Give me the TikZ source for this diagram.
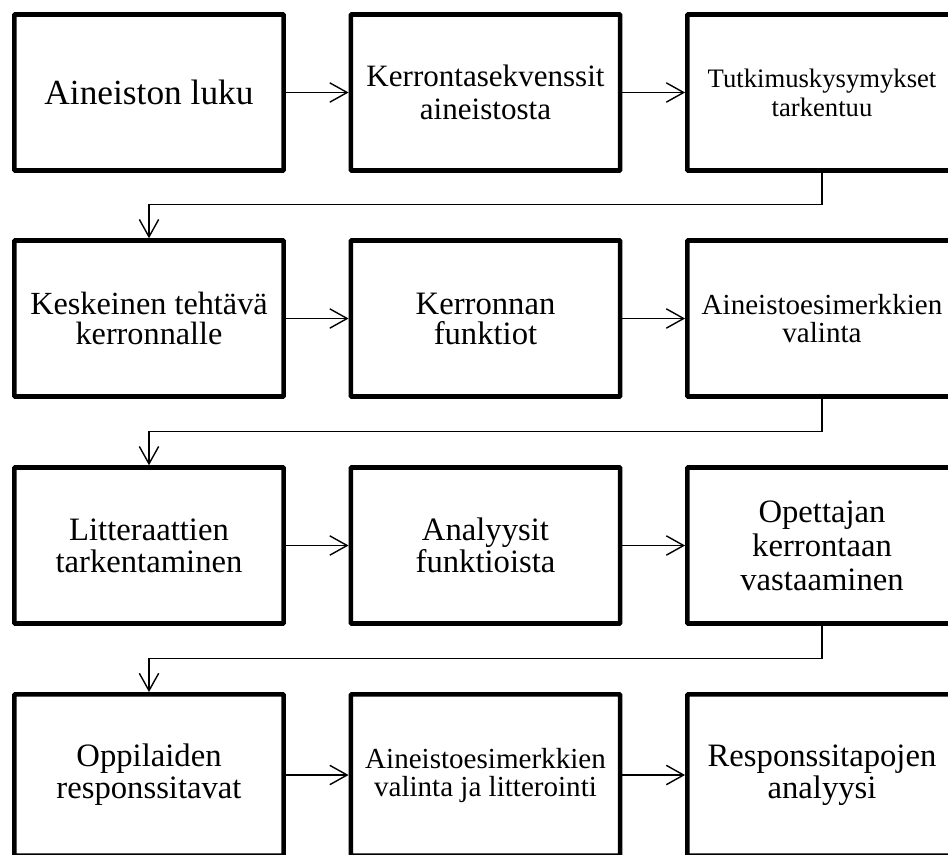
\documentclass[tikz,border=0pt]{standalone}
\usepackage{fontspec}
\setmainfont{Liberation Serif}
\usetikzlibrary{arrows.meta}

\tikzset{
  stage/.style={draw, line width=3.4pt, rounded corners=0.6pt, minimum width=202pt,
    minimum height=117pt, align=center, inner sep=2pt, font=\fontsize{24.5}{24}\selectfont},
  lastrow/.style={stage, minimum height=121pt},
  flow/.style={line width=1.05pt, -{Straight Barb[length=13pt,width=14.5pt]}}
}

\begin{document}
\begin{tikzpicture}[x=0.75pt,y=-0.75pt]
\useasboundingbox (0,0) rectangle (948,854);
% row 1
\node[stage,font=\fontsize{26.5}{28}\selectfont] (luku) at (149,92.5) {Aineiston luku};
\node[stage,font=\fontsize{23.3}{24.75}\selectfont] (sekv) at (485.5,92.5) {Kerrontasekvenssit\\aineistosta};
\node[stage,font=\fontsize{20}{21.75}\selectfont] (kys) at (822,92.5) {Tutkimuskysymykset\\tarkentuu};
% row 2
\node[stage,font=\fontsize{24.2}{22.5}\selectfont] (teht) at (149,318.5) {Keskeinen tehtävä\\kerronnalle};
\node[stage,font=\fontsize{24.5}{22.5}\selectfont] (funk) at (485.5,318.5) {Kerronnan\\funktiot};
\node[stage,font=\fontsize{21.8}{21}\selectfont] (valinta) at (822,318.5) {Aineistoesimerkkien\\valinta};
% row 3
\node[stage] (litt) at (149,545.5) {Litteraattien\\tarkentaminen};
\node[stage] (anal) at (485.5,545.5) {Analyysit\\funktioista};
\node[stage,font=\fontsize{24.5}{25.5}\selectfont] (vast) at (822,545.5) {Opettajan\\kerrontaan\\vastaaminen};
% row 4, cut off at the bottom edge
\node[lastrow] (opp) at (149,775) {Oppilaiden\\responssitavat};
\node[lastrow,font=\fontsize{21.8}{21}\selectfont] (litter) at (485.5,775) {Aineistoesimerkkien\\valinta ja litterointi};
\node[lastrow] (resp) at (822,775) {Responssitapojen\\analyysi};
% arrows
\draw[flow] (luku.east) -- (sekv.west);
\draw[flow] (sekv.east) -- (kys.west);
\draw[flow] (kys.south) -- ++(0,32) -| (teht.north);
\draw[flow] (teht.east) -- (funk.west);
\draw[flow] (funk.east) -- (valinta.west);
\draw[flow] (valinta.south) -- ++(0,32.5) -| (litt.north);
\draw[flow] (litt.east) -- (anal.west);
\draw[flow] (anal.east) -- (vast.west);
\draw[flow] (vast.south) -- ++(0,32.5) -| (opp.north);
\draw[flow] (opp.east) -- (litter.west);
\draw[flow] (litter.east) -- (resp.west);
\end{tikzpicture}
\end{document}
